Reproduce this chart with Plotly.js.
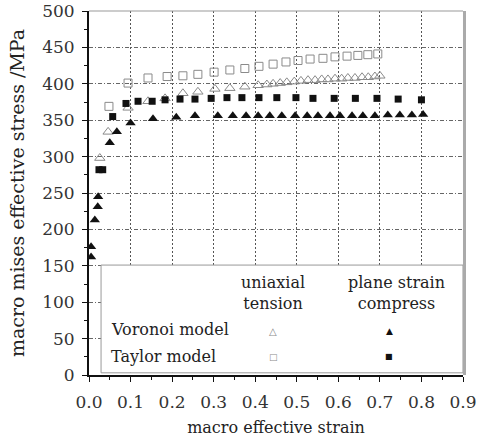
<!DOCTYPE html>
<html>
<head>
<meta charset="utf-8">
<script src="https://cdn.plot.ly/plotly-3.0.1.min.js"></script>
<style>html,body{margin:0;padding:0;background:#fff;}#chart{width:478px;height:441px;}</style>
</head>
<body>
<div id="chart"></div>
<script>
// Voronoi model, uniaxial tension (open triangles)
const vorTenStrain = [0.026,0.046,0.094,0.142,0.183,0.226,0.262,0.303,0.339,0.375,0.407,0.428,0.443,0.460,0.476,0.494,0.510,0.527,0.544,0.560,0.575,0.592,0.608,0.623,0.640,0.657,0.672,0.688,0.700];
const vorTenStress = [298,334,367,376,380,387,389,393,394,396,398,399,400,401,402,403,404,405,405,406,406,407,407,408,408,409,409,410,411];
// Taylor model, uniaxial tension (open squares)
const tayTenStrain = [0.048,0.094,0.142,0.188,0.226,0.262,0.301,0.339,0.375,0.409,0.443,0.474,0.503,0.532,0.563,0.592,0.621,0.647,0.671,0.695];
const tayTenStress = [369,401,408,410,411,413,416,419,421,424,427,430,432,434,435,437,438,439,440,441];
// Voronoi model, plane strain compress (filled triangles)
const vorPscStrain = [0.005,0.005,0.014,0.021,0.022,0.050,0.067,0.100,0.154,0.210,0.255,0.310,0.346,0.378,0.407,0.435,0.464,0.496,0.525,0.551,0.580,0.604,0.633,0.659,0.688,0.719,0.748,0.777,0.804];
const vorPscStress = [162,176,213,231,245,319,334,346,352,354,356,356,356,356,356,356,356,356,356,356,356,356,356,356,356,357,357,357,358];
// Taylor model, plane strain compress (filled squares)
const tayPscStrain = [0.024,0.033,0.057,0.089,0.118,0.152,0.183,0.219,0.255,0.294,0.332,0.368,0.409,0.452,0.498,0.539,0.590,0.641,0.693,0.744,0.800];
const tayPscStress = [282,282,355,373,376,376,378,379,379,380,381,381,381,381,381,380,380,380,380,379,378];

const xTickVals = [0,0.1,0.2,0.3,0.4,0.5,0.6,0.7,0.8,0.9];
const xTickText = ["0.0","0.1","0.2","0.3","0.4","0.5","0.6","0.7","0.8","0.9"];
const yTickVals = [0,50,100,150,200,250,300,350,400,450,500];

const serif = "DejaVu Serif, Liberation Serif, serif";
const grayOpen = "#8a8a8a";

const traces = [
  {x: vorTenStrain, y: vorTenStress, mode: "markers", type: "scatter",
   marker: {symbol: "triangle-up-open", size: 9, color: grayOpen, line: {width: 1, color: grayOpen}}},
  {x: tayTenStrain, y: tayTenStress, mode: "markers", type: "scatter",
   marker: {symbol: "square-open", size: 8, color: grayOpen, line: {width: 1, color: grayOpen}}},
  {x: tayPscStrain, y: tayPscStress, mode: "markers", type: "scatter",
   marker: {symbol: "square", size: 7, color: "#111"}},
  {x: vorPscStrain, y: vorPscStress, mode: "markers", type: "scatter",
   marker: {symbol: "triangle-up", size: 9, color: "#111"}}
];

const layout = {
  width: 478, height: 441,
  margin: {l: 89, r: 15, t: 11, b: 66},
  paper_bgcolor: "#fff", plot_bgcolor: "#fff",
  showlegend: false,
  font: {family: serif, color: "#222", size: 16},
  xaxis: {
    range: [0, 0.9], tickvals: xTickVals, ticktext: xTickText,
    showgrid: true, gridcolor: "#555", gridwidth: 1, griddash: "2px,2px",
    zeroline: false, showline: true, linecolor: "#111", linewidth: 2,
    ticks: "outside", ticklen: 5, tickcolor: "#111", tickwidth: 1,
    ticklabelstandoff: 6,
    tickfont: {family: serif, size: 17, color: "#333"},
    minor: {dtick: 0.05, ticks: "outside", ticklen: 3, tickcolor: "#111", showgrid: false},
    title: {text: "macro effective strain", font: {family: serif, size: 16, color: "#222"}, standoff: 10}
  },
  yaxis: {
    range: [0, 500], tickvals: yTickVals,
    showgrid: true, gridcolor: "#666", gridwidth: 1, griddash: "4px,2px,1px,2px",
    zeroline: false, showline: true, linecolor: "#111", linewidth: 2,
    ticks: "outside", ticklen: 5, tickcolor: "#111", tickwidth: 1,
    ticklabelstandoff: 4,
    tickfont: {family: serif, size: 17, color: "#333"},
    minor: {dtick: 25, ticks: "outside", ticklen: 3, tickcolor: "#111", showgrid: false},
    title: {text: "macro mises effective stress /MPa", font: {family: serif, size: 19, color: "#222"}, standoff: 12}
  },
  shapes: [
    {type: "rect", xref: "x", yref: "y", x0: 0.029, x1: 0.9, y0: 3, y1: 151,
     fillcolor: "#fff", line: {color: "#999", width: 1}, layer: "between"},
    {type: "line", xref: "paper", yref: "paper", x0: 0, x1: 1, y0: 1, y1: 1,
     line: {color: "#999", width: 1}, layer: "above"},
    {type: "line", xref: "paper", yref: "paper", x0: 1.004, x1: 1.004, y0: 0, y1: 1,
     line: {color: "#aaa", width: 3}, layer: "above"}
  ],
  annotations: [
    {xref: "x", yref: "y", x: 0.443, y: 113, text: "uniaxial<br>tension", showarrow: false,
     xanchor: "center", yanchor: "middle", font: {family: serif, size: 16, color: "#222"}},
    {xref: "x", yref: "y", x: 0.741, y: 113, text: "plane strain<br>compress", showarrow: false,
     xanchor: "center", yanchor: "middle", font: {family: serif, size: 16, color: "#222"}},
    {xref: "x", yref: "y", x: 0.048, y: 62, text: "Voronoi model", showarrow: false,
     xanchor: "left", yanchor: "middle", font: {family: serif, size: 16, color: "#222"}},
    {xref: "x", yref: "y", x: 0.048, y: 25, text: "Taylor model", showarrow: false,
     xanchor: "left", yanchor: "middle", font: {family: serif, size: 16, color: "#222"}},
    {xref: "x", yref: "y", x: 0.443, y: 60, text: "△", showarrow: false,
     xanchor: "center", yanchor: "middle", font: {family: "DejaVu Sans", size: 10, color: grayOpen}},
    {xref: "x", yref: "y", x: 0.722, y: 60, text: "▲", showarrow: false,
     xanchor: "center", yanchor: "middle", font: {family: "DejaVu Sans", size: 9, color: "#111"}},
    {xref: "x", yref: "y", x: 0.443, y: 25, text: "□", showarrow: false,
     xanchor: "center", yanchor: "middle", font: {family: "DejaVu Sans", size: 9, color: grayOpen}},
    {xref: "x", yref: "y", x: 0.722, y: 25, text: "■", showarrow: false,
     xanchor: "center", yanchor: "middle", font: {family: "DejaVu Sans", size: 8, color: "#111"}}
  ]
};

Plotly.newPlot("chart", traces, layout, {displayModeBar: false, staticPlot: true});
</script>
</body>
</html>
